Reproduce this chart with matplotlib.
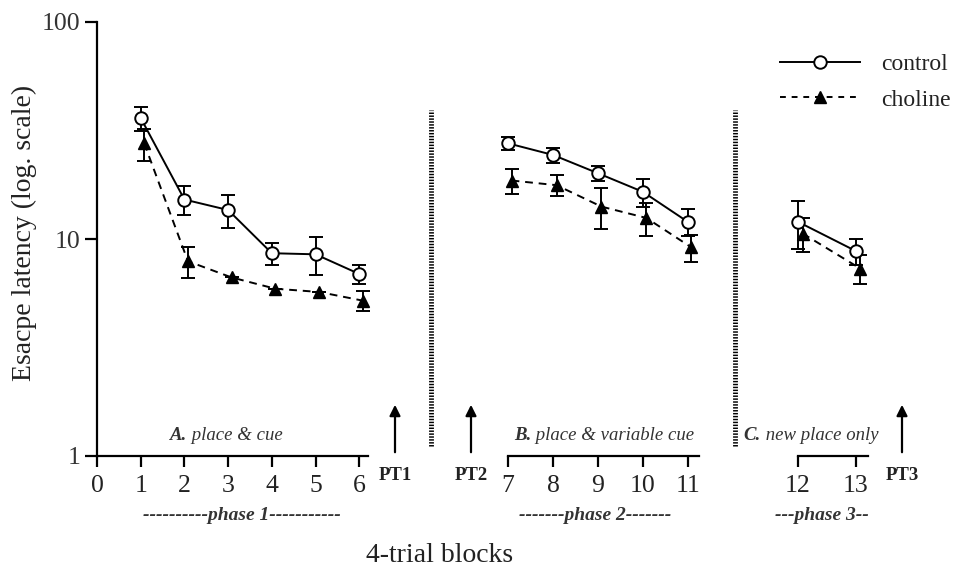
import numpy as np
from matplotlib import pyplot as plt
from matplotlib.lines import Line2D

plt.rcParams['font.family'] = ['Liberation Serif', 'DejaVu Serif']

# 4-trial blocks, split into the three phases
blocks_1 = [1, 2, 3, 4, 5, 6]
blocks_2 = [7, 8, 9, 10, 11]
blocks_3 = [12, 13]

control_1 = [36.1, 15.2, 13.6, 8.6, 8.5, 6.9]
control_1_err = [4.5, 2.3, 2.4, 1.0, 1.7, 0.7]
choline_1 = [27.6, 7.9, 6.65, 5.9, 5.7, 5.2]
choline_1_err = [4.7, 1.3, 0.0, 0.0, 0.0, 0.55]

control_2 = [27.6, 24.4, 20.1, 16.5, 12.0]
control_2_err = [1.8, 1.9, 1.6, 2.5, 1.7]
choline_2 = [18.6, 17.7, 14.1, 12.5, 9.15]
choline_2_err = [2.4, 2.0, 3.0, 2.2, 1.3]

control_3 = [12.0, 8.8]
control_3_err = [3.0, 1.2]
choline_3 = [10.6, 7.3]
choline_3_err = [1.9, 1.1]

xticks_1 = [0, 1, 2, 3, 4, 5, 6]

W, H = 956, 572
fig = plt.figure(figsize=(W / 100, H / 100), dpi=100)

def box(x0, x1):
    # pixel box -> figure fraction (y from 1 at 456px to 100 at 22px)
    return [x0 / W, (H - 456) / H, (x1 - x0) / W, (456 - 22) / H]

ax1 = fig.add_axes(box(97, 368))
ax2 = fig.add_axes(box(508, 699))
ax3 = fig.add_axes(box(798, 868))

ax1.set_xlim(0, 6.2)
ax2.set_xlim(7, 11.25)
ax3.set_xlim(12, 13.21)

off = 0.08
panels = [
    (ax1, blocks_1, control_1, control_1_err, choline_1, choline_1_err, xticks_1),
    (ax2, blocks_2, control_2, control_2_err, choline_2, choline_2_err, blocks_2),
    (ax3, blocks_3, control_3, control_3_err, choline_3, choline_3_err, blocks_3),
]

for ax, x, c, ce, ch, che, ticks in panels:
    x = np.array(x, dtype=float)
    ax.set_yscale('log')
    ax.set_ylim(1, 100)
    eb = ax.errorbar(x + off, ch, yerr=che, fmt='none', ecolor='black',
                     elinewidth=1.4, capsize=5, capthick=1.4, zorder=2)
    for a in eb.lines[1] + eb.lines[2]:
        a.set_clip_on(False)
    ax.plot(x + off, ch, color='black', ls=(0, (4, 3)), lw=1.4, clip_on=False,
            marker='^', ms=9, mfc='black', mec='black', zorder=3)
    eb = ax.errorbar(x, c, yerr=ce, fmt='none', ecolor='black',
                     elinewidth=1.4, capsize=5, capthick=1.4, zorder=4)
    for a in eb.lines[1] + eb.lines[2]:
        a.set_clip_on(False)
    ax.plot(x, c, color='black', ls='-', lw=1.4, marker='o', ms=9, clip_on=False,
            mfc='white', mec='black', mew=1.4, zorder=5)
    for s in ['top', 'right']:
        ax.spines[s].set_visible(False)
    ax.spines['bottom'].set_linewidth(1.6)
    ax.spines['left'].set_linewidth(1.6)
    ax.set_xticks(ticks)
    ax.tick_params(axis='x', direction='out', length=8, width=1.6, pad=6,
                   labelsize=18.5, labelcolor='#222222')
    ax.patch.set_alpha(0)

ax1.set_yticks([1, 10, 100])
ax1.set_yticklabels(['1', '10', '100'])
ax1.minorticks_off()
ax1.tick_params(axis='y', direction='out', length=9, width=1.6, pad=3,
                labelsize=18.5, labelcolor='#333333', which='major')
ax1.tick_params(axis='y', which='minor', length=0)

for ax in (ax2, ax3):
    ax.spines['left'].set_visible(False)
    ax.tick_params(axis='y', which='both', left=False, labelleft=False)
    ax.minorticks_off()

# dotted separators between phases
for xp in (431, 735):
    fig.add_artist(Line2D([xp / W, xp / W], [(H - 446) / H, (H - 110) / H],
                          color='black', lw=3.5, ls=(0, (0.3, 0.3))))

# probe-trial arrows
for xp, lab in [(395, 'PT1'), (471, 'PT2'), (902, 'PT3')]:
    fig.add_artist(plt.Annotation('', xy=(xp / W, (H - 402) / H),
                                  xytext=(xp / W, (H - 455) / H),
                                  xycoords='figure fraction',
                                  arrowprops=dict(arrowstyle='-|>', color='black',
                                                  lw=1.6, mutation_scale=16)))
    fig.text(xp / W, (H - 475) / H, lab, ha='center', va='center',
             fontsize=13.5, fontweight='bold', color='#222222')

# phase condition labels
for xs, letter, rest in [(187, 'A.', ' place & cue'),
                         (531, 'B.', ' place & variable cue'),
                         (761, 'C.', ' new place only')]:
    fig.text(xs / W, (H - 436) / H, letter, ha='right', va='center',
             fontsize=13.5, style='italic', fontweight='bold', color='#333333')
    fig.text(xs / W, (H - 436) / H, rest, ha='left', va='center',
             fontsize=13.5, style='italic', color='#333333')

for xc, lab in [(242, '----------phase 1-----------'),
                (595, '-------phase 2-------'),
                (822, '---phase 3--')]:
    fig.text(xc / W, (H - 515) / H, lab, ha='center', va='center',
             fontsize=14, style='italic', fontweight='bold', color='#333333')

fig.text(440 / W, (H - 556) / H, '4-trial blocks', ha='center', va='center',
         fontsize=20, color='#222222')
fig.text(24 / W, (H - 233) / H, 'Esacpe latency (log. scale)', ha='center',
         va='center', rotation=90, fontsize=20, color='#222222')

handles = [
    Line2D([], [], color='black', lw=1.4, marker='o', ms=9, mfc='white', mew=1.4),
    Line2D([], [], color='black', lw=1.4, ls=(0, (3, 3)), marker='^', ms=9, mfc='black'),
]
fig.legend(handles, ['control', 'choline'], loc='center left',
           bbox_to_anchor=(780 / W, (H - 82) / H), frameon=False,
           borderpad=0, borderaxespad=0,
           fontsize=17, handlelength=3.4, handletextpad=0.9, labelspacing=0.6,
           labelcolor='#222222')

plt.savefig('out.png', dpi=100)
